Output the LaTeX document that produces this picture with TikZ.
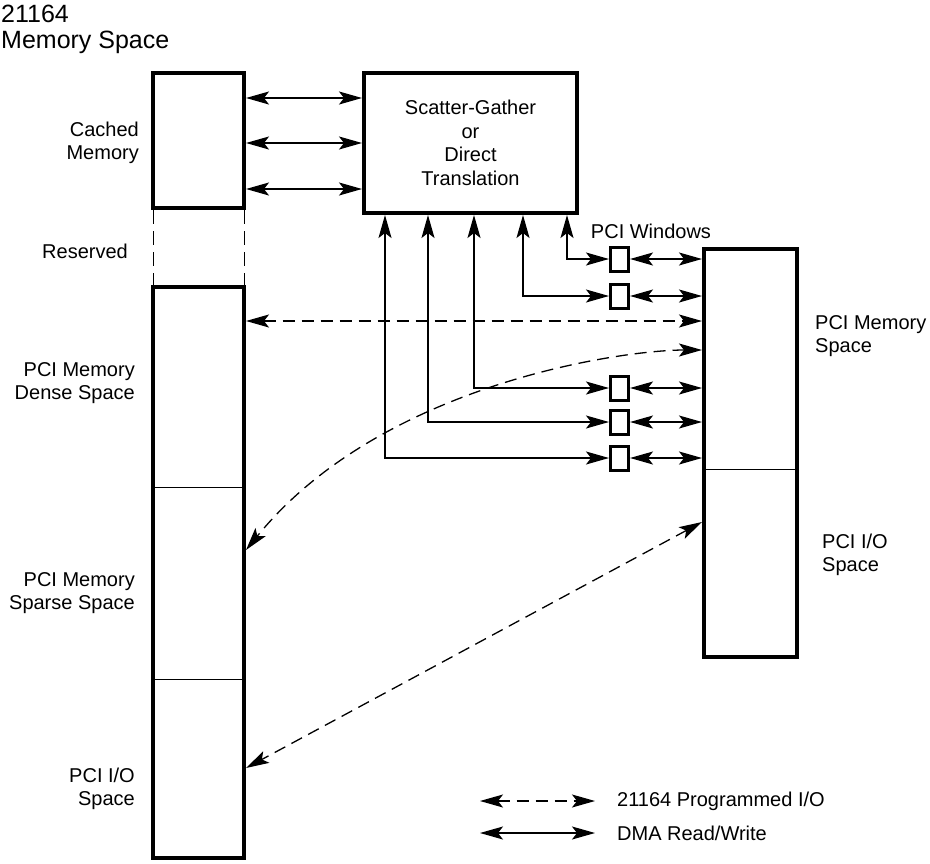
\documentclass[tikz,border=0pt]{standalone}
\usepackage{fontspec}
\setmainfont{Liberation Sans}
\usetikzlibrary{arrows.meta}
\begin{document}
\begin{tikzpicture}[x=1pt,y=-1pt,
  >={Stealth[length=23pt,width=13pt,inset=5pt]},
  lbl/.style={font=\fontsize{20}{23.5}\selectfont, inner sep=0pt},
  thickbox/.style={draw, line width=4pt, inner sep=0pt},
  win/.style={draw, line width=3pt, minimum width=18pt, minimum height=24pt, inner sep=0pt},
  dma/.style={line width=1.3pt, <->},
  pio/.style={dma, dash pattern=on 12pt off 7pt},
  hair/.style={line width=1pt}
  ]
\useasboundingbox (0,0) rectangle (930,863);
% boxes
\node[thickbox, minimum width=91pt, minimum height=135pt] (cached) at (198.5,140.5) {};
\node[thickbox, minimum width=91pt, minimum height=571pt] (big) at (198.5,572.5) {};
\node[thickbox, lbl, line width=4pt, minimum width=213pt, minimum height=140pt, align=center] (sg) at (470.5,143) {Scatter-Gather\\or\\Direct\\Translation};
\node[thickbox, minimum width=93pt, minimum height=408pt] (pci) at (750.5,453) {};
% dividers
\coordinate (d1) at (0,487);
\coordinate (d2) at (0,679);
\coordinate (d3) at (0,469);
\draw[hair] (big.west |- d1) -- (big.east |- d1);
\draw[hair] (big.west |- d2) -- (big.east |- d2);
\draw[hair] (pci.west |- d3) -- (pci.east |- d3);
% reserved dashed
\draw[hair, dash pattern=on 14pt off 7pt] ([xshift=2pt]cached.south west) -- ([xshift=2pt]big.north west);
\draw[hair, dash pattern=on 14pt off 7pt] ([xshift=-2pt]cached.south east) -- ([xshift=-2pt]big.north east);
% windows
\node[win] (w1) at (619.5,259) {};
\node[win] (w2) at (619.5,296) {};
\node[win] (w3) at (619.5,388) {};
\node[win] (w4) at (619.5,422) {};
\node[win] (w5) at (619.5,458) {};
% cached <-> sg
\coordinate (h1) at (0,98);
\coordinate (h2) at (0,143);
\coordinate (h3) at (0,189);
\draw[dma] (cached.east |- h1) -- (sg.west |- h1);
\draw[dma] (cached.east |- h2) -- (sg.west |- h2);
\draw[dma] (cached.east |- h3) -- (sg.west |- h3);
% sg <-> windows
\coordinate (x1) at (385,0);
\coordinate (x2) at (428,0);
\coordinate (x3) at (474,0);
\coordinate (x4) at (523,0);
\coordinate (x5) at (567,0);
\draw[dma] (sg.south -| x5) |- (w1.west);
\draw[dma] (sg.south -| x4) |- (w2.west);
\draw[dma] (sg.south -| x3) |- (w3.west);
\draw[dma] (sg.south -| x2) |- (w4.west);
\draw[dma] (sg.south -| x1) |- (w5.west);
% windows <-> pci
\foreach \w in {w1,w2,w3,w4,w5}
  \draw[dma] (\w.east) -- (\w.east -| pci.west);
% programmed I/O
\coordinate (yd) at (0,321);
\coordinate (yc1) at (0,350);
\coordinate (yc2) at (0,550);
\coordinate (ys1) at (0,522);
\coordinate (ys2) at (0,768);
\draw[pio] (big.east |- yd) -- (pci.west |- yd);
\draw[pio] (pci.west |- yc1) .. controls (620,350) and (380,385) .. (big.east |- yc2);
\draw[pio] (pci.west |- ys1) -- (big.east |- ys2);
% labels
\node[lbl, anchor=north west, align=left, font=\fontsize{25}{26}\selectfont] (title) at (1,5) {21164\\Memory Space};
\node[lbl, anchor=east, align=right] (lcm) at (139,143) {Cached\\Memory};
\node[lbl, anchor=east, align=right] (lres) at (128,251) {Reserved};
\node[lbl, anchor=east, align=right] (lden) at (135,383) {PCI Memory\\Dense Space};
\node[lbl, anchor=east, align=right] (lspa) at (135,593) {PCI Memory\\Sparse Space};
\node[lbl, anchor=east, align=right] (lio) at (135,789) {PCI I/O\\Space};
\node[lbl, anchor=west, align=left] (rmem) at (815,336) {PCI Memory\\Space};
\node[lbl, anchor=west, align=left] (rio) at (822,555) {PCI I/O\\Space};
\node[lbl] (lwin) at (651,231) {PCI Windows};
% legend
\coordinate (la) at (480,801);
\coordinate (lb) at (595,801);
\coordinate (lc) at (480,833);
\coordinate (ld) at (595,833);
\draw[pio] (la) -- (lb);
\draw[dma] (lc) -- (ld);
\node[lbl, anchor=west] (lt1) at (617,801) {21164 Programmed I/O};
\node[lbl, anchor=west] (lt2) at (617,833) {DMA Read/Write};
\end{tikzpicture}
\end{document}
